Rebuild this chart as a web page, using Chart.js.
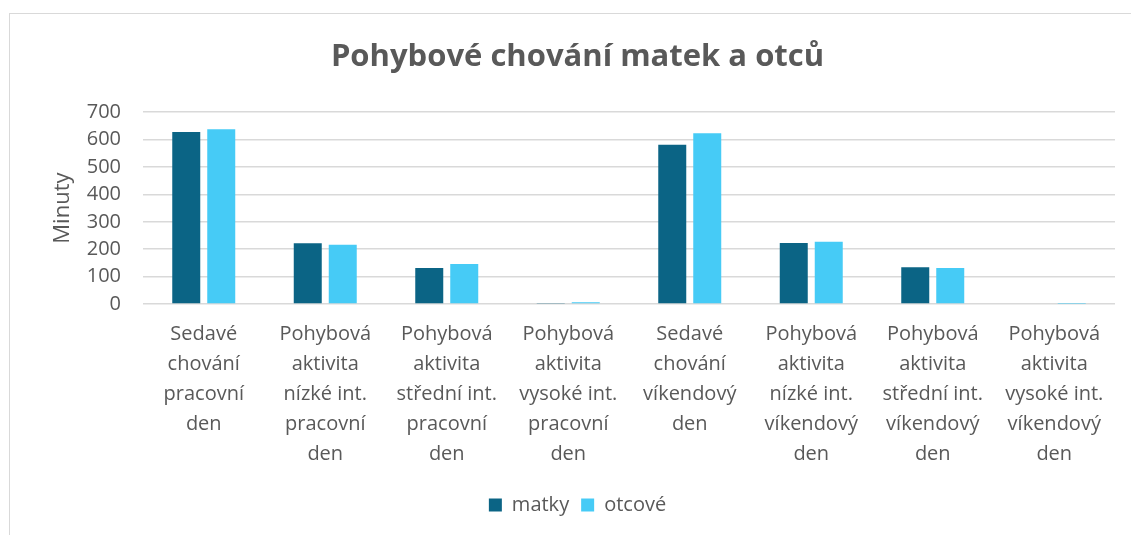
<!DOCTYPE html>
<html>
<head>
<meta charset="utf-8">
<script src="https://cdn.jsdelivr.net/npm/chart.js@4/dist/chart.umd.min.js"></script>
<style>
  html, body { margin: 0; padding: 0; background: #fff; overflow: hidden; }
  .chart-container { position: absolute; left: 0; top: 0; width: 1131px; height: 535px; }
  .frame { position: absolute; left: 9px; top: 13px; width: 1121px; height: 540px; border: 1px solid #d9d9d9; pointer-events: none; }
</style>
</head>
<body>
<div class="frame"></div>
<div class="chart-container"><canvas id="pohybChart"></canvas></div>
<script>
// kategorie (víceřádkové popisky)
const categories = [
    ['Sedavé', 'chování', 'pracovní', 'den'],
    ['Pohybová', 'aktivita', 'nízké int.', 'pracovní', 'den'],
    ['Pohybová', 'aktivita', 'střední int.', 'pracovní', 'den'],
    ['Pohybová', 'aktivita', 'vysoké int.', 'pracovní', 'den'],
    ['Sedavé', 'chování', 'víkendový', 'den'],
    ['Pohybová', 'aktivita', 'nízké int.', 'víkendový', 'den'],
    ['Pohybová', 'aktivita', 'střední int.', 'víkendový', 'den'],
    ['Pohybová', 'aktivita', 'vysoké int.', 'víkendový', 'den']
];
const matky = [628, 222, 131, 4, 581, 223, 134, 3];
const otcove = [638, 216, 146, 6, 623, 227, 131, 1];
const yTicks = [0, 100, 200, 300, 400, 500, 600, 700];

const textColor = '#595959';
const fontFamily = '"Open Sans", "Liberation Sans", sans-serif';

const ctx = document.getElementById('pohybChart').getContext('2d');
const myChart = new Chart(ctx, {
    type: 'bar',
    data: {
        labels: categories,
        datasets: [
            {
                label: 'matky',
                data: matky,
                backgroundColor: '#0B6485',
                barPercentage: 0.8,
                categoryPercentage: 0.576
            },
            {
                label: 'otcové',
                data: otcove,
                backgroundColor: '#46CBF6',
                barPercentage: 0.8,
                categoryPercentage: 0.576
            }
        ]
    },
    options: {
        responsive: true,
        maintainAspectRatio: false,
        animation: false,
        layout: { padding: { left: 40, right: 16, top: 0, bottom: 10 } },
        plugins: {
            title: {
                display: true,
                text: 'Pohybové chování matek a otců',
                color: textColor,
                font: { family: fontFamily, size: 31, weight: 'bold' },
                padding: { top: 39, bottom: 36 }
            },
            legend: {
                position: 'bottom',
                labels: {
                    color: textColor,
                    font: { family: fontFamily, size: 20 },
                    boxWidth: 13,
                    boxHeight: 13,
                    padding: 12
                }
            },
            tooltip: { enabled: false }
        },
        scales: {
            y: {
                min: 0,
                max: 700,
                afterFit: s => { s.width = 103; },
                afterBuildTicks: s => { s.ticks = yTicks.map(v => ({ value: v })); },
                ticks: {
                    color: textColor,
                    font: { family: fontFamily, size: 20 },
                    padding: 22
                },
                grid: { color: '#d9d9d9', lineWidth: 1.5, drawTicks: false },
                border: { display: false },
                title: {
                    display: true,
                    text: 'Minuty',
                    color: textColor,
                    font: { family: fontFamily, size: 22 },
                    padding: { top: 10, bottom: 0 }
                }
            },
            x: {
                afterFit: s => { s.height = 179; },
                ticks: {
                    color: textColor,
                    font: { family: fontFamily, size: 20, lineHeight: 1.5 },
                    maxRotation: 0,
                    autoSkip: false,
                    padding: 7
                },
                grid: { display: false },
                border: { display: false }
            }
        }
    }
});
</script>
</body>
</html>
